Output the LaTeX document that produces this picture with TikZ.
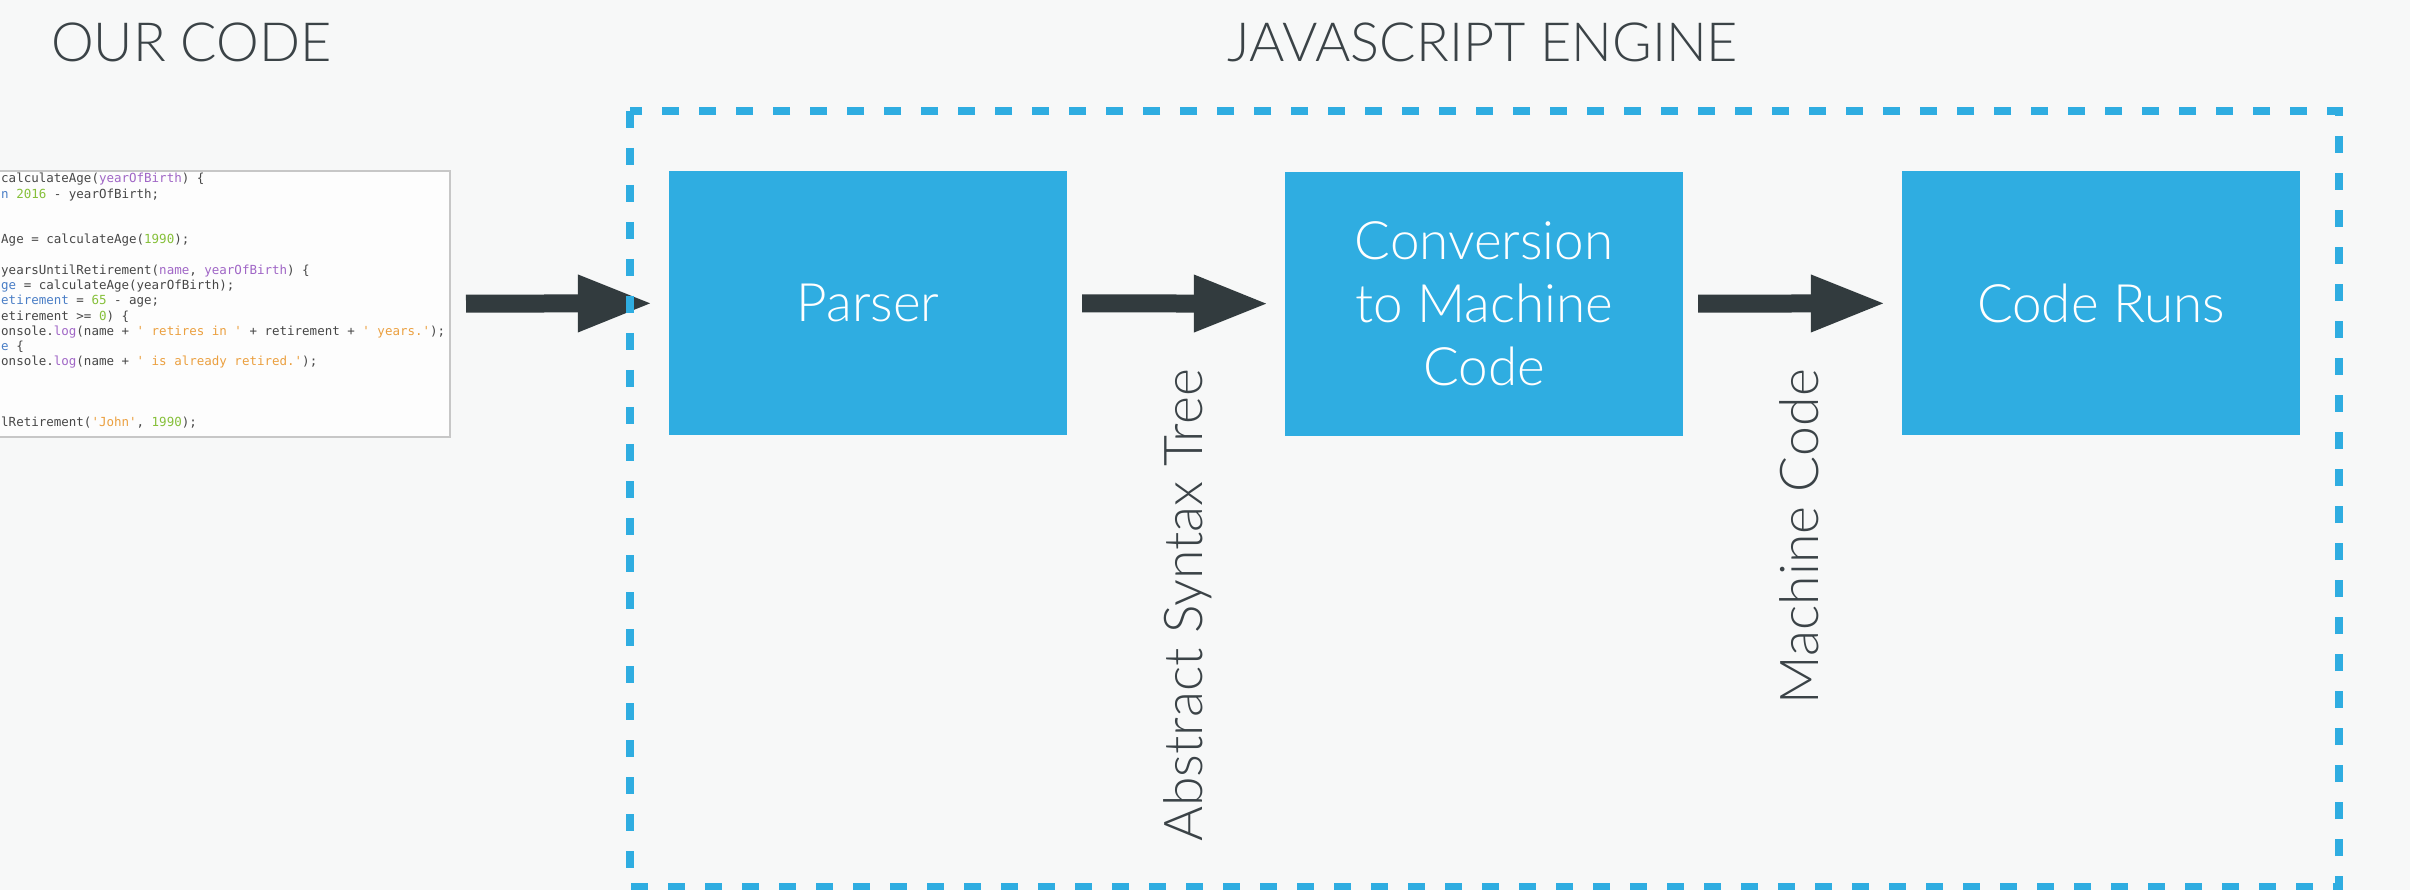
\documentclass[tikz,border=0pt]{standalone}
\usepackage{fontspec}
\IfFontExistsTF{Lato Light}{\setmainfont{Lato Light}}{\setmainfont{Lato}}
\newfontfamily\codefont{DejaVu Sans Mono}[Ligatures=TeXOff]
\usetikzlibrary{arrows.meta}
\definecolor{bgcol}{HTML}{F7F8F8}
\definecolor{boxblue}{HTML}{2FADE1}
\definecolor{arrowgray}{HTML}{323B3E}
\definecolor{titlegray}{HTML}{3B4347}
\definecolor{codegray}{HTML}{474747}
\definecolor{codepurple}{HTML}{A066C6}
\definecolor{codegreen}{HTML}{86C03A}
\definecolor{codeorange}{HTML}{EBA040}
\definecolor{codeblue}{HTML}{4A7EC6}
\begin{document}
\begin{tikzpicture}
[x=1pt,y=-1pt,
  boxdecorate/.style={shape=rectangle,fill=boxblue,text=white,minimum width=398,minimum height=264,inner sep=0,align=center,font=\fontsize{53}{63}\selectfont},%
  arrowdecorate/.style={draw=arrowgray,line width=18,shorten <=15,shorten >=15,-{Triangle[length=76,width=52]}},%
  titledecorate/.style={text=titlegray,inner sep=0,font=\fontsize{54}{63}\selectfont},%
  labeldecorate/.style={text=titlegray,inner sep=0,rotate=90,anchor=base east,font=\fontsize{53.5}{60}\selectfont}]
\useasboundingbox (0,0) rectangle (2410,890);
\fill[bgcol] (0,0) rectangle (2410,890);
%%% titles
\node (ourcode) at (51,62) [titledecorate,anchor=base west] {OUR CODE};
\node (engine) at (1483,62) [titledecorate,anchor=base] {JAVASCRIPT ENGINE};
%
%%% our code
% box and text
\node (codebox) at (222.5,304) [draw=black!22,line width=2,fill=white!70!bgcol,minimum width=455,minimum height=266] {};
\node (code) at (1,173) [anchor=north west,inner sep=0,align=left,text=codegray,font=\codefont\fontsize{12.5}{15.25}\selectfont]
{calculateAge(\textcolor{codepurple}{yearOfBirth}) \{\\
\textcolor{codeblue}{n} \textcolor{codegreen}{2016} - yearOfBirth;\\
\mbox{}\\
\mbox{}\\
Age = calculateAge(\textcolor{codegreen}{1990});\\
\mbox{}\\
yearsUntilRetirement(\textcolor{codepurple}{name}, \textcolor{codepurple}{yearOfBirth}) \{\\
\textcolor{codeblue}{ge} = calculateAge(yearOfBirth);\\
\textcolor{codeblue}{etirement} = \textcolor{codegreen}{65} - age;\\
etirement >= \textcolor{codegreen}{0}) \{\\
onsole.\textcolor{codepurple}{log}(name + \textcolor{codeorange}{' retires in '} + retirement + \textcolor{codeorange}{' years.'});\\
\textcolor{codeblue}{e} \{\\
onsole.\textcolor{codepurple}{log}(name + \textcolor{codeorange}{' is already retired.'});\\
\mbox{}\\
\mbox{}\\
\mbox{}\\
lRetirement(\textcolor{codeorange}{'John'}, \textcolor{codegreen}{1990});};
%
%%% engine steps
% nodes
\node (parser) at (868,303) [boxdecorate] {Parser};
\node (convert) at (1484,304) [boxdecorate] {Conversion\\to Machine\\Code};
\node (runs) at (2101,303) [boxdecorate] {Code Runs};
% edges
\path
(codebox) edge[arrowdecorate] (parser)
(parser) edge[arrowdecorate] (convert)
(convert) edge[arrowdecorate] (runs);
% labels below the edges
\node (ast) at (1202,369) [labeldecorate] {Abstract Syntax Tree};
\node (mcode) at (1818,369) [labeldecorate] {Machine Code};
%
%%% engine frame
\draw[boxblue,line width=8,dash pattern=on 17 off 20] (630,111) rectangle (2339,887);
\end{tikzpicture}
\end{document}
